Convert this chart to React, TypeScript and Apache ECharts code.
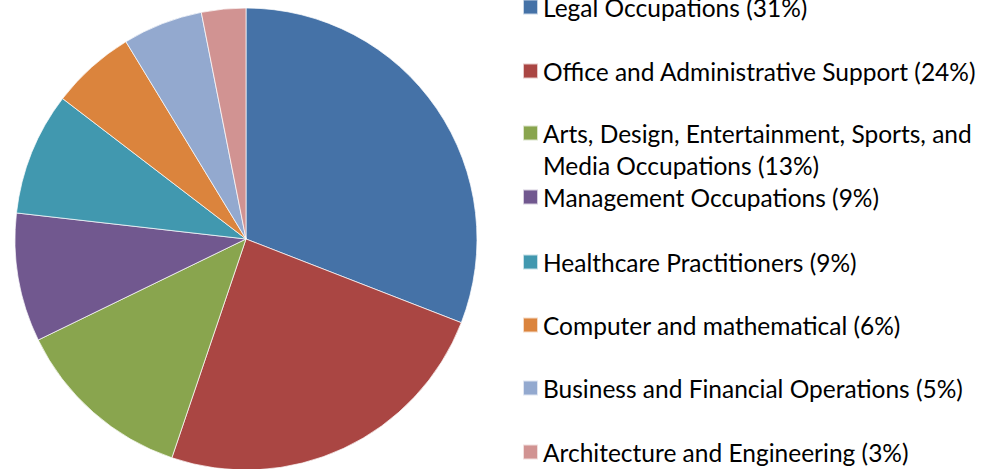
import React, { useEffect, useRef } from "react";
import * as echarts from "echarts";

const categories = [
  "Legal Occupations",
  "Office and Administrative Support",
  "Arts, Design, Entertainment, Sports, and Media Occupations",
  "Management Occupations",
  "Healthcare Practitioners",
  "Computer and mathematical",
  "Business and Financial Operations",
  "Architecture and Engineering",
];
const values = [30.9, 24.3, 12.6, 9.0, 8.6, 5.9, 5.6, 3.1];
const percentLabels = ["31%", "24%", "13%", "9%", "9%", "6%", "5%", "3%"];
const legendTexts = [
  "Legal Occupations (31%)",
  "Office and Administrative Support (24%)",
  "Arts, Design, Entertainment, Sports, and\nMedia Occupations (13%)",
  "Management Occupations (9%)",
  "Healthcare Practitioners (9%)",
  "Computer and mathematical (6%)",
  "Business and Financial Operations (5%)",
  "Architecture and Engineering (3%)",
];
const colors = ["#4572A7", "#AA4643", "#89A54E", "#71588F", "#4198AF", "#DB843D", "#93A9CF", "#D19392"];

export default function App() {
  const ref = useRef<HTMLDivElement>(null);
  useEffect(() => {
    if (!ref.current) return;
    const chart = echarts.init(ref.current, null, { renderer: "svg" });
    const fontSize = 24.5;
    const lineH = 32;
    const centers = [7, 71, 133, 197, 262, 325, 388, 452];
    const legends = categories.map((c, i) => {
      const multi = legendTexts[i].includes("\n");
      return {
        show: true,
        data: [c],
        orient: "vertical",
        left: 522,
        top: centers[i] - (multi ? 48 : lineH / 2),
        padding: 0,
        itemWidth: 15,
        itemHeight: 15,
        icon: "rect",
        selectedMode: false,
        formatter: () => (multi ? "\n" + legendTexts[i] : legendTexts[i]),
        textStyle: {
          fontFamily: "Lato",
          fontSize,
          lineHeight: lineH,
          color: "#000",
        },
      };
    });
    chart.setOption({
      animation: false,
      color: colors,
      legend: legends,
      series: [
        {
          type: "pie",
          center: [246, 239],
          radius: 231,
          startAngle: 90,
          clockwise: true,
          label: { show: false },
          labelLine: { show: false },
          itemStyle: { borderColor: "rgba(255,255,255,0.7)", borderWidth: 1 },
          emphasis: { disabled: true },
          data: categories.map((c, i) => ({ name: c, value: values[i], pct: percentLabels[i] })),
        },
      ],
    });
    return () => chart.dispose();
  }, []);
  return (
    <div
      ref={ref}
      style={{ position: "fixed", left: 0, top: 0, width: 1000, height: 469, background: "#fff" }}
    />
  );
}
